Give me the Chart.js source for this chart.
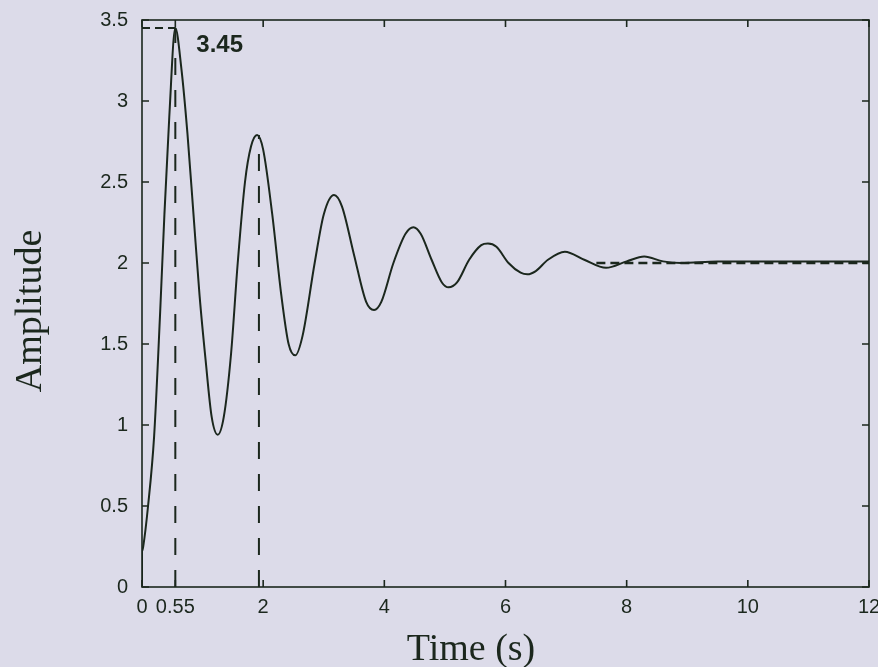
<!DOCTYPE html>
<html>
<head>
<meta charset="utf-8">
<script src="https://cdn.jsdelivr.net/npm/chart.js@4/dist/chart.umd.min.js"></script>
<style>
  html, body { margin: 0; padding: 0; background: #dcdbe9; }
  #wrap { width: 878px; height: 667px; }
</style>
</head>
<body>
<div id="wrap"><canvas id="chart"></canvas></div>
<script>
// step response
const times = [0, 0, 0.02, 0.1, 0.2, 0.3, 0.37, 0.45, 0.55, 0.65, 0.75, 0.85, 0.95, 1.05, 1.15, 1.25,
  1.35, 1.47, 1.58, 1.7, 1.8, 1.9, 2.0, 2.15, 2.3, 2.42, 2.53, 2.65, 2.85, 3.0, 3.17, 3.3, 3.5,
  3.7, 3.83, 3.95, 4.15, 4.35, 4.48, 4.6, 4.78, 4.95, 5.06, 5.2, 5.4, 5.6, 5.71, 5.85, 6.05,
  6.25, 6.36, 6.5, 6.7, 6.98, 7.3, 7.66, 8.0, 8.29, 8.6, 8.9, 9.5, 10, 11, 12];
const amplitude = [0, 0.22, 0.25, 0.5, 0.93, 1.7, 2.3, 2.9, 3.45, 3.2, 2.8, 2.3, 1.8, 1.4, 1.05, 0.94,
  1.05, 1.44, 2.0, 2.5, 2.72, 2.79, 2.7, 2.3, 1.8, 1.5, 1.43, 1.55, 2.0, 2.3, 2.42, 2.35, 2.05,
  1.76, 1.71, 1.76, 2.0, 2.18, 2.22, 2.18, 2.02, 1.88, 1.85, 1.88, 2.02, 2.11, 2.12, 2.1, 2.0,
  1.94, 1.93, 1.95, 2.02, 2.07, 2.02, 1.97, 2.01, 2.04, 2.01, 2.0, 2.01, 2.01, 2.01, 2.01];

const peakTime = 0.55;
const peakValue = 3.45;
const secondPeakTime = 1.93;
const secondPeakValue = 2.79;
const steadyValue = 2;

const xTicks = [0, 0.55, 2, 4, 6, 8, 10, 12];
const xTickLabels = ["0", "0.55", "2", "4", "6", "8", "10", "12"];

const ink = "#1b271d";
const tickFont = { family: "'Liberation Sans', Arial, sans-serif", size: 20 };

const points = times.map((t, i) => ({ x: t, y: amplitude[i] }));

// frame, inward ticks, annotation and axis titles
const decor = {
  id: "decor",
  beforeDraw(chart) {
    const c = chart.ctx;
    c.save();
    c.fillStyle = "#dcdbe9";
    c.fillRect(0, 0, chart.width, chart.height);
    c.restore();
  },
  afterDraw(chart) {
    const c = chart.ctx;
    const a = chart.chartArea;
    const xs = chart.scales.x, ys = chart.scales.y;
    c.save();
    c.strokeStyle = ink;
    c.lineWidth = 1.6;
    c.strokeRect(a.left, a.top, a.right - a.left, a.bottom - a.top);
    c.beginPath();
    ys.ticks.forEach(t => {
      const py = ys.getPixelForValue(t.value);
      c.moveTo(a.left, py); c.lineTo(a.left + 7, py);
      c.moveTo(a.right, py); c.lineTo(a.right - 7, py);
    });
    xTicks.forEach(v => {
      const px = xs.getPixelForValue(v);
      c.moveTo(px, a.bottom); c.lineTo(px, a.bottom - 7);
      c.moveTo(px, a.top); c.lineTo(px, a.top + 7);
    });
    c.stroke();

    c.fillStyle = ink;
    c.font = "bold 24px 'Liberation Sans', Arial, sans-serif";
    c.textBaseline = "middle";
    c.fillText("3.45", xs.getPixelForValue(peakTime) + 21, ys.getPixelForValue(peakValue) + 17);

    c.font = "38px 'Liberation Serif', 'Times New Roman', serif";
    c.textAlign = "center";
    c.textBaseline = "alphabetic";
    c.fillText("Time (s)", 471, 660);
    c.textBaseline = "middle";
    c.translate(31, 311);
    c.rotate(-Math.PI / 2);
    c.fillText("Amplitude", 0, 0);
    c.restore();
  }
};

new Chart(document.getElementById("chart"), {
  type: "scatter",
  data: {
    datasets: [
      {
        label: "Response",
        data: points,
        showLine: true,
        borderColor: ink,
        borderWidth: 2,
        pointRadius: 0,
        cubicInterpolationMode: "monotone"
      },
      {
        label: "Steady state",
        data: [{ x: 7.5, y: steadyValue }, { x: 12, y: steadyValue }],
        showLine: true,
        borderColor: ink,
        borderWidth: 2.5,
        borderDash: [9, 5],
        pointRadius: 0
      },
      {
        label: "Peak level",
        data: [{ x: 0, y: peakValue }, { x: peakTime, y: peakValue }],
        showLine: true,
        borderColor: ink,
        borderWidth: 2,
        borderDash: [8, 5],
        pointRadius: 0
      },
      {
        label: "Peak time",
        data: [{ x: peakTime, y: 0 }, { x: peakTime, y: peakValue }],
        showLine: true,
        borderColor: ink,
        borderWidth: 2,
        borderDash: [17, 15],
        pointRadius: 0
      },
      {
        label: "Second peak",
        data: [{ x: secondPeakTime, y: 0 }, { x: secondPeakTime, y: secondPeakValue }],
        showLine: true,
        borderColor: ink,
        borderWidth: 2,
        borderDash: [17, 15],
        pointRadius: 0
      }
    ]
  },
  options: {
    responsive: true,
    maintainAspectRatio: false,
    animation: false,
    layout: { padding: { top: 20, right: 9, left: 0, bottom: 0 } },
    plugins: { legend: { display: false }, tooltip: { enabled: false } },
    scales: {
      x: {
        type: "linear",
        min: 0,
        max: 12,
        afterBuildTicks: s => { s.ticks = xTicks.map(v => ({ value: v })); },
        afterFit: s => { s.height = 80; s.paddingLeft = 0; s.paddingRight = 0; },
        grid: { display: false, drawTicks: false },
        border: { display: false },
        ticks: {
          autoSkip: false,
          maxRotation: 0,
          padding: 8,
          color: ink,
          font: tickFont,
          callback: v => xTickLabels[xTicks.indexOf(v)]
        }
      },
      y: {
        min: 0,
        max: 3.5,
        afterFit: s => { s.width = 142; s.paddingTop = 0; s.paddingBottom = 0; },
        grid: { display: false, drawTicks: false },
        border: { display: false },
        ticks: {
          stepSize: 0.5,
          padding: 14,
          color: ink,
          font: tickFont,
          callback: v => String(v)
        }
      }
    }
  },
  plugins: [decor]
});
</script>
</body>
</html>
